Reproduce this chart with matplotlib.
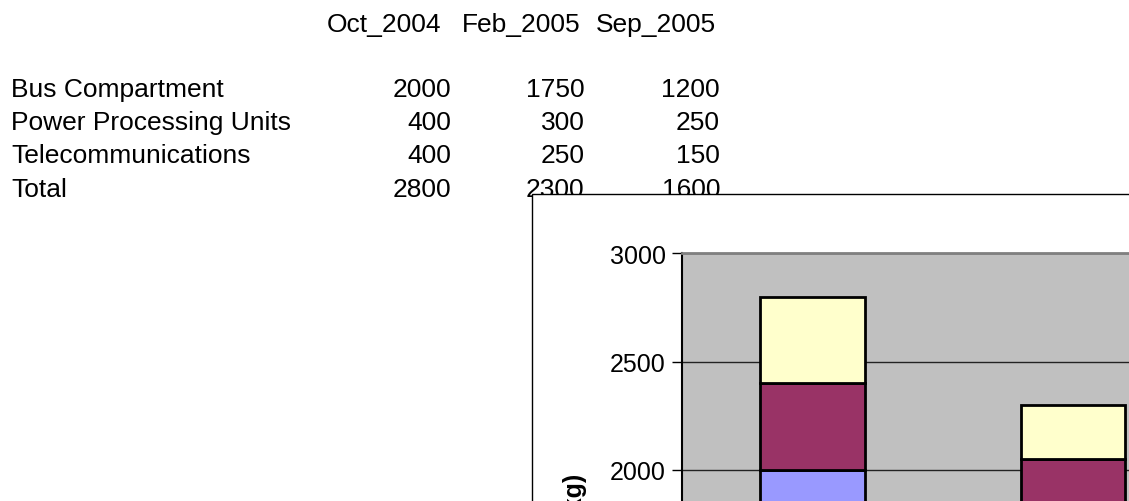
import matplotlib
matplotlib.use("Agg")
import matplotlib.pyplot as plt
from matplotlib.patches import Rectangle

plt.rcParams["font.family"] = ["Liberation Sans", "DejaVu Sans"]

# data from the sheet
periods = ["Oct_2004", "Feb_2005", "Sep_2005"]
components = ["Bus Compartment", "Power Processing Units", "Telecommunications"]
bus_compartment = [2000, 1750, 1200]
power_units = [400, 300, 250]
telecom = [400, 250, 150]
totals = [2800, 2300, 1600]

colors = ["#9999FF", "#993366", "#FFFFCC"]

W, H = 1129, 502


def fx(px):
    return px / W


def fy(py):
    return 1 - py / H


fig = plt.figure(figsize=(W / 100, H / 100), dpi=100)
fig.patch.set_facecolor("white")

# spreadsheet table behind the chart
tfs = 19
header_right = [441, 580, 716]
col_right = [451, 584.5, 720]
for name, xr in zip(periods, header_right):
    fig.text(fx(xr), fy(31.7), name, ha="right", va="baseline", fontsize=tfs, zorder=0.5)

row_base = [97.3, 130, 162.7, 196.7]
rows = [bus_compartment, power_units, telecom, totals]
labels = components + ["Total"]
for lab, vals, yb in zip(labels, rows, row_base):
    fig.text(fx(11), fy(yb), lab, ha="left", va="baseline", fontsize=tfs, zorder=0.5)
    for v, xr in zip(vals, col_right):
        fig.text(fx(xr), fy(yb), str(v), ha="right", va="baseline", fontsize=tfs, zorder=0.5)

# embedded chart frame (white box that hides the sheet below it)
frame = Rectangle((fx(531.7), fy(560)), fx(700), fy(194.5) - fy(560),
                  transform=fig.transFigure, facecolor="white", edgecolor="black",
                  linewidth=1, zorder=1)
fig.patches.append(frame)

# plot area
left_px, top_px = 682.3, 254.3
cat_px = 260.5
zero_px = 903.5
ax = fig.add_axes([fx(left_px), fy(zero_px), 3 * cat_px / W, (zero_px - top_px) / H])
ax.set_zorder(2)
ax.set_facecolor("#C0C0C0")

x = list(range(len(periods)))
bottom2 = [a + b for a, b in zip(bus_compartment, power_units)]
ax.bar(x, bus_compartment, 0.4, color=colors[0], edgecolor="black", linewidth=2, zorder=3)
ax.bar(x, power_units, 0.4, bottom=bus_compartment, color=colors[1], edgecolor="black",
       linewidth=2, zorder=3)
ax.bar(x, telecom, 0.4, bottom=bottom2, color=colors[2], edgecolor="black",
       linewidth=2, zorder=3)

ax.set_xlim(-0.5, 2.5)
ax.set_ylim(0, 3000)
ax.set_yticks(range(0, 3001, 500))
ax.set_xticks([])
ax.yaxis.grid(True, color="#222222", linewidth=1)
ax.set_axisbelow(True)
ax.tick_params(axis="y", direction="out", length=7.5, width=1, pad=4.3, labelsize=18)
ax.spines["top"].set_color("#808080")
ax.spines["top"].set_linewidth(2)
ax.spines["right"].set_color("#808080")
ax.spines["right"].set_linewidth(2)
ax.spines["left"].set_color("black")
ax.spines["left"].set_linewidth(1.5)

fig.text(fx(575), fy(473.3), "Mass (kg)", rotation=90, ha="center", va="top",
         fontsize=18, fontweight="bold", zorder=3)

fig.savefig("out.png", dpi=100)
